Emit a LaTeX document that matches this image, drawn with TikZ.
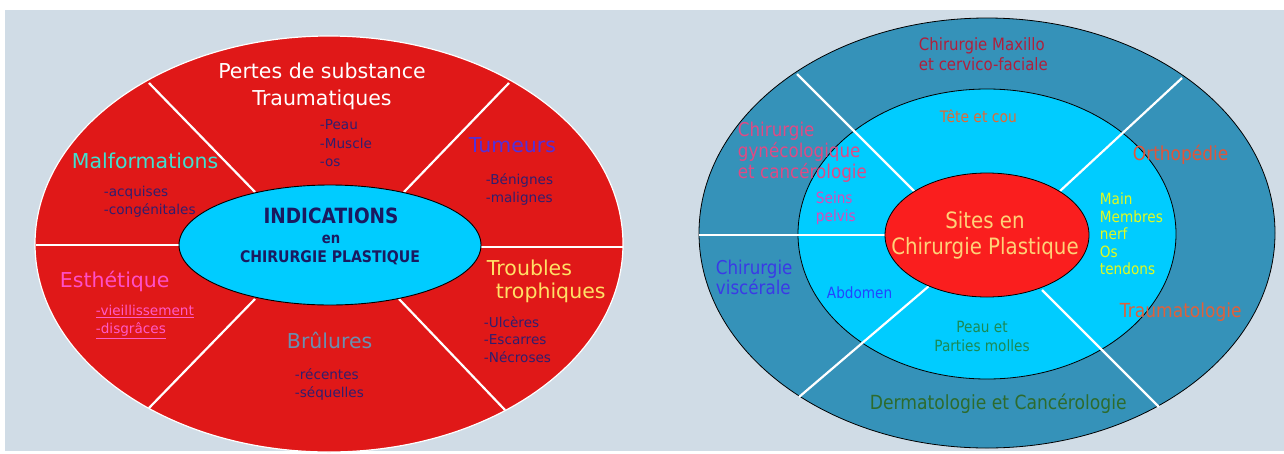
\documentclass[tikz,border=0pt]{standalone}
\usepackage{fontspec}
\setmainfont{DejaVu Sans}
\newfontfamily\narrowfont[FakeStretch=0.88]{DejaVu Sans}
\usetikzlibrary{arrows}

\begin{document}
\begin{tikzpicture}[x=1pt,y=1pt,yscale=-1,xscale=1,
  divider/.style={draw=white,line width=2.2pt},
  itemtext/.style={anchor=west,inner sep=0.75pt,align=left},
  headtext/.style={anchor=center,inner sep=0.75pt,align=center}]
\useasboundingbox (0,0) rectangle (1284,453);

%Shape: Rectangle [background]
\fill [color={rgb, 255:red, 208; green, 220; blue, 230 }] (5,10) rectangle (1284,451);

%Shape: Ellipse [left, red]
\draw [draw=white,line width=1.2pt,fill={rgb, 255:red, 224; green, 24; blue, 24 }] (329,244) ellipse (294 and 208);
%Straight Lines
\draw [divider] (255,192) -- (149,83);
\draw [divider] (404,192) -- (509,83);
\draw [divider] (255,299) -- (149,408);
\draw [divider] (399,299) -- (505,410);
\draw [divider] (36,245) -- (179,245);
\draw [divider] (481,247) -- (623,247);
%Shape: Ellipse [left, center]
\draw [line width=0.9pt,fill={rgb, 255:red, 0; green, 204; blue, 255 }] (330,245) ellipse (151 and 60);

%Shape: Ellipse [right, outer]
\draw [line width=0.8pt,fill={rgb, 255:red, 53; green, 146; blue, 185 }] (987,233) ellipse (288 and 215);
%Shape: Ellipse [right, middle]
\draw [line width=0.8pt,fill={rgb, 255:red, 0; green, 204; blue, 255 }] (987,234) ellipse (189 and 145);
%Straight Lines
\draw [divider] (915,192) -- (797,74);
\draw [divider] (1060,191) -- (1182,78);
\draw [divider] (885,235) -- (699,235);
\draw [divider] (929,286) -- (799,397);
\draw [divider] (1042,290) -- (1159,407);
%Shape: Ellipse [right, inner]
\draw [line width=0.8pt,fill={rgb, 255:red, 250; green, 30; blue, 30 }] (987,235) ellipse (102 and 62);

% Text Node
\draw (322,86.5) node (pertes) [headtext,color=white,font=\fontsize{20.5}{27}\selectfont] {Pertes de substance\\Traumatiques};
% Text Node
\draw (319,143.5) node (peau) [itemtext,color={rgb, 255:red, 48; green, 30; blue, 110 },font=\fontsize{13.6}{18.5}\selectfont] {-Peau\\-Muscle\\-os};
% Text Node
\draw (468,145) node (tumeurs) [itemtext,color={rgb, 255:red, 84; green, 48; blue, 216 },font=\fontsize{20.5}{27}\selectfont] {Tumeurs};
% Text Node
\draw (485,189) node (benignes) [itemtext,color={rgb, 255:red, 48; green, 30; blue, 110 },font=\fontsize{13.6}{18}\selectfont] {-Bénignes\\-malignes};
% Text Node
\draw (71,161) node (malform) [itemtext,color={rgb, 255:red, 64; green, 224; blue, 208 },font=\fontsize{20.5}{27}\selectfont] {Malformations};
% Text Node
\draw (103,202) node (acquises) [itemtext,color={rgb, 255:red, 48; green, 30; blue, 110 },font=\fontsize{13.6}{18}\selectfont] {-acquises\\-congénitales};
% Text Node
\draw (331,216) node (indic) [headtext,color={rgb, 255:red, 26; green, 26; blue, 96 },font=\narrowfont\bfseries\fontsize{21}{24}\selectfont] {INDICATIONS};
% Text Node
\draw (331,239) node (en) [headtext,color={rgb, 255:red, 26; green, 26; blue, 96 },font=\narrowfont\bfseries\fontsize{15}{18}\selectfont] {en};
% Text Node
\draw (330,258) node (chirpl) [headtext,color={rgb, 255:red, 26; green, 26; blue, 96 },font=\narrowfont\bfseries\fontsize{16}{19}\selectfont] {CHIRURGIE PLASTIQUE};
% Text Node
\draw (59,281) node (esthe) [itemtext,color={rgb, 255:red, 255; green, 79; blue, 200 },font=\fontsize{20.5}{27}\selectfont] {Esthétique};
% Text Node
\draw (95,322) node (vieil) [itemtext,color={rgb, 255:red, 255; green, 90; blue, 200 },font=\fontsize{13.6}{18}\selectfont] {\underline{-vieillissement}\\\underline{-disgrâces}};
% Text Node
\draw (486,268) node (troubles) [itemtext,color={rgb, 255:red, 255; green, 224; blue, 102 },font=\fontsize{20.5}{27}\selectfont] {Troubles};
% Text Node
\draw (495,293) node (trophiq) [itemtext,color={rgb, 255:red, 255; green, 224; blue, 102 },font=\fontsize{20.5}{27}\selectfont] {trophiques};
% Text Node
\draw (483,339.5) node (ulceres) [itemtext,color={rgb, 255:red, 48; green, 30; blue, 110 },font=\fontsize{13.6}{17.5}\selectfont] {-Ulcères\\-Escarres\\-Nécroses};
% Text Node
\draw (286,340) node (brulures) [itemtext,color={rgb, 255:red, 106; green, 143; blue, 176 },font=\fontsize{20.5}{27}\selectfont] {Brûlures};
% Text Node
\draw (294,384) node (recentes) [itemtext,color={rgb, 255:red, 48; green, 30; blue, 110 },font=\fontsize{13.6}{18}\selectfont] {-récentes\\-séquelles};

% Text Node
\draw (918,54) node (maxillo) [itemtext,color={rgb, 255:red, 176; green, 31; blue, 60 },font=\narrowfont\fontsize{17}{20}\selectfont] {Chirurgie Maxillo\\et cervico-faciale};
% Text Node
\draw (939,116) node (tete) [itemtext,color={rgb, 255:red, 224; green, 106; blue, 53 },font=\narrowfont\fontsize{15.8}{18}\selectfont] {Tête et cou};
% Text Node
\draw (737,152) node (gyneco) [itemtext,color={rgb, 255:red, 224; green, 74; blue, 133 },font=\narrowfont\fontsize{19}{21}\selectfont] {Chirurgie\\gynécologique\\et cancérologie};
% Text Node
\draw (815,208) node (seins) [itemtext,color={rgb, 255:red, 215; green, 76; blue, 184 },font=\narrowfont\fontsize{15.5}{18}\selectfont] {Seins\\pelvis};
% Text Node
\draw (1132,155) node (ortho) [itemtext,color={rgb, 255:red, 224; green, 85; blue, 58 },font=\narrowfont\fontsize{19.3}{22}\selectfont] {Orthopédie};
% Text Node
\draw (1099,234) node (main) [itemtext,color={rgb, 255:red, 226; green, 250; blue, 30 },font=\narrowfont\fontsize{15.5}{17.5}\selectfont] {Main\\Membres\\nerf\\Os\\tendons};
% Text Node
\draw (985,235) node (sites) [headtext,color={rgb, 255:red, 255; green, 210; blue, 120 },font=\narrowfont\fontsize{22.5}{26}\selectfont] {Sites en\\Chirurgie Plastique};
% Text Node
\draw (715,277) node (viscer) [itemtext,color={rgb, 255:red, 58; green, 58; blue, 230 },font=\narrowfont\fontsize{19}{20}\selectfont] {Chirurgie\\viscérale};
% Text Node
\draw (826,293) node (abdomen) [itemtext,color={rgb, 255:red, 34; green, 68; blue, 255 },font=\narrowfont\fontsize{15.5}{18}\selectfont] {Abdomen};
% Text Node
\draw (1119,312) node (trauma) [itemtext,color={rgb, 255:red, 224; green, 96; blue, 58 },font=\narrowfont\fontsize{19.4}{22}\selectfont] {Traumatologie};
% Text Node
\draw (982,336.5) node (peauet) [headtext,color={rgb, 255:red, 26; green, 138; blue, 85 },font=\narrowfont\fontsize{15.5}{19}\selectfont] {Peau et\\Parties molles};
% Text Node
\draw (869,404) node (derma) [itemtext,color={rgb, 255:red, 45; green, 107; blue, 45 },font=\narrowfont\fontsize{19.5}{22}\selectfont] {Dermatologie et Cancérologie};

\end{tikzpicture}
\end{document}
